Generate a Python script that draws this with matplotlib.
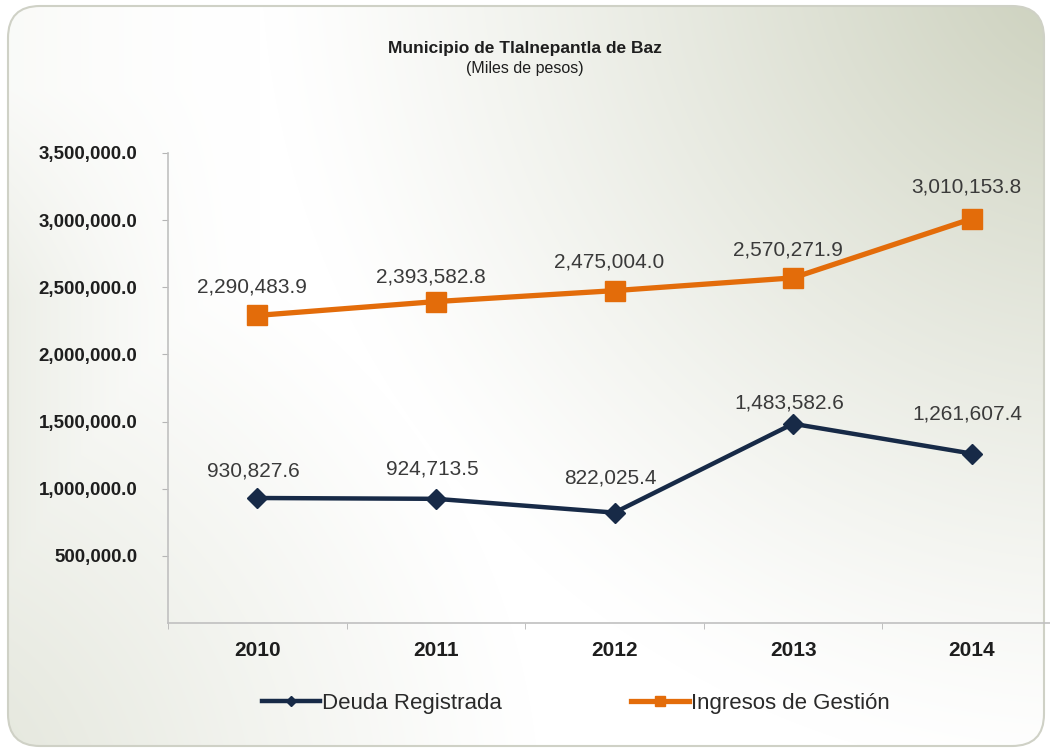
import matplotlib.pyplot as plt
import numpy as np
from matplotlib.patches import FancyBboxPatch
from matplotlib.lines import Line2D

plt.rcParams['font.family'] = ['Liberation Sans', 'DejaVu Sans']

years = ['2010', '2011', '2012', '2013', '2014']
deuda = [930827.6, 924713.5, 822025.4, 1483582.6, 1261607.4]
ingresos = [2290483.9, 2393582.8, 2475004.0, 2570271.9, 3010153.8]
yticks = [500000, 1000000, 1500000, 2000000, 2500000, 3000000, 3500000]

# label offsets above each point, pixels
dy_ingresos = [28, 25, 29, 28, 32]
dy_deuda = [27, 30, 35, 21, 40]

navy = '#172a47'
orange = '#e36c0a'

W, H = 1050, 753
fig = plt.figure(figsize=(W / 100, H / 100), dpi=100)
fig.patch.set_facecolor('white')

# background panel with soft gradient (darker top-right and left side)
bg = fig.add_axes([0, 0, 1, 1], zorder=-1)
bg.set_xlim(0, W)
bg.set_ylim(H, 0)
bg.axis('off')
yy, xx = np.mgrid[0:H, 0:W]
r_tr = np.sqrt((xx - 1100.0) ** 2 + (yy + 60.0) ** 2) / 840.0
t_tr = np.clip(1 - r_tr, 0, 1) ** 1.2
r_bl = np.sqrt((xx + 120.0) ** 2 + (yy - 820.0) ** 2) / 660.0
t_bl = 0.6 * np.clip(1 - r_bl, 0, 1) ** 1.1
t_l = 0.35 * np.clip(1 - xx / 260.0, 0, 1) ** 1.5 * np.clip(yy / 300.0, 0.3, 1)
t = np.maximum(np.maximum(t_tr, t_bl), t_l)
c0 = np.array([1.0, 1.0, 1.0])
c1 = np.array([200, 205, 184]) / 255.0
img = c0[None, None, :] * (1 - t[..., None]) + c1[None, None, :] * t[..., None]
im = bg.imshow(img, extent=[0, W, H, 0], aspect='auto', interpolation='bilinear')
panel = FancyBboxPatch((8, 6), 1036, 740, boxstyle='round,pad=0,rounding_size=32',
                       facecolor='none', edgecolor='#cfd1c6', lw=1.5)
bg.add_patch(panel)
im.set_clip_path(panel)

# main chart
ax = fig.add_axes([168 / W, 1 - 623 / H, (1061 - 168) / W, (623 - 153) / H])
ax.patch.set_alpha(0)
x = np.arange(len(years))

ax.plot(x, deuda, color=navy, lw=3.2, marker='D', ms=10, mfc=navy, mec=navy, zorder=3)
ax.plot(x, ingresos, color=orange, lw=3.8, marker='s', ms=15, mfc=orange, mec=orange, zorder=3)

for xi, v, dy in zip(x, ingresos, dy_ingresos):
    ax.annotate(f'{v:,.1f}', (xi, v), xytext=(-5, dy), textcoords='offset pixels',
                ha='center', va='center', fontsize=15, color='#3a3a3a')
for xi, v, dy in zip(x, deuda, dy_deuda):
    ax.annotate(f'{v:,.1f}', (xi, v), xytext=(-4, dy), textcoords='offset pixels',
                ha='center', va='center', fontsize=15, color='#3a3a3a')

ax.set_xlim(-0.5, len(years) - 0.5)
ax.set_ylim(0, 3500000)
ax.set_yticks(yticks)
ax.set_yticklabels([f'{v:,.1f}' for v in yticks], fontsize=13.5, fontweight='bold', color='#1e1e1e')
ax.set_xticks(x)
ax.set_xticklabels(years, fontsize=15, fontweight='bold', color='#1e1e1e')
ax.set_xticks(np.arange(-0.5, len(years)), minor=True)
ax.tick_params(axis='x', which='major', length=0, pad=13)
ax.tick_params(axis='x', which='minor', length=4, color='#b5b5b5', direction='out')
ax.tick_params(axis='y', length=4, color='#b5b5b5', pad=18)

for s in ['top', 'right']:
    ax.spines[s].set_visible(False)
for s in ['left', 'bottom']:
    ax.spines[s].set_color('#c0c0c0')
    ax.spines[s].set_linewidth(1.2)

fig.text(525 / W, 1 - 48 / H, 'Municipio de Tlalnepantla de Baz', ha='center', va='center',
         fontsize=12.5, fontweight='bold', color='#1e1e1e')
fig.text(525 / W, 1 - 68 / H, '(Miles de pesos)', ha='center', va='center',
         fontsize=11.5, color='#1e1e1e')

handles = [Line2D([], [], color=navy, lw=3.2, marker='D', ms=5),
           Line2D([], [], color=orange, lw=3.8, marker='s', ms=7)]
fig.legend(handles, ['Deuda Registrada', 'Ingresos de Gestión'], loc='center',
           bbox_to_anchor=(576 / W, 1 - 703 / H), ncol=2, frameon=False, fontsize=16,
           handlelength=2.6, handletextpad=0.1, columnspacing=5.8, labelcolor='#2a2a2a')

fig.savefig('out.png', dpi=100)
